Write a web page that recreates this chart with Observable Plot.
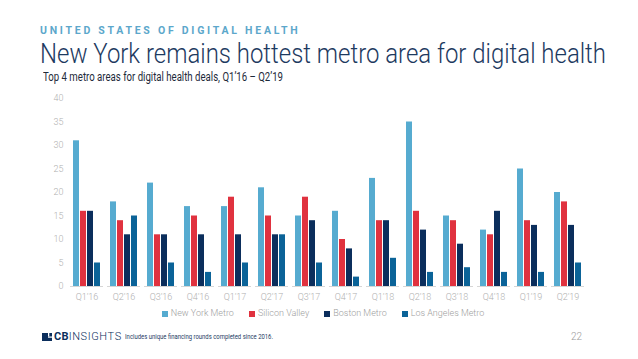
<!DOCTYPE html>
<html><head><meta charset="utf-8">
<script src="https://cdn.jsdelivr.net/npm/d3@7"></script>
<script src="https://cdn.jsdelivr.net/npm/@observablehq/plot@0.6"></script>
<style>
body{margin:0;width:638px;height:359px;position:relative;background:#fff;font-family:Roboto,"Noto Sans",sans-serif;overflow:hidden}
.abs{position:absolute;white-space:nowrap;line-height:1}
.fit{transform-origin:0 50%}
#legend{display:flex;justify-content:center;align-items:center;gap:15px;font-size:9px;color:#a0a0a0;font-weight:300}
#legend span.sw{display:inline-block;width:6px;height:6px;margin-right:3px;vertical-align:middle}
</style></head><body>
<div class="abs" style="left:40px;top:26px;font-size:10.5px;font-weight:700;letter-spacing:2.75px;color:#5ca7cb">UNITED STATES OF DIGITAL HEALTH</div>
<div class="abs fit" data-w="566" style="left:40px;top:40px;font-size:27.5px;font-weight:300;color:#1d3a5f">New York remains hottest metro area for digital health</div>
<div class="abs fit" data-w="240" style="left:43px;top:71px;font-size:12.5px;font-weight:400;color:#1e2a3a">Top 4 metro areas for digital health deals, Q1’16 – Q2’19</div>
<div id="chart" class="abs" style="left:0;top:88px"></div>
<div id="legend" class="abs" style="left:175px;width:296px;top:309px"></div>
<div class="abs" style="left:42px;top:331px;display:flex;align-items:center">
  <svg width="10" height="8" style="margin-right:2px"><rect x="0" y="0" width="10" height="8" fill="#0b2e5c"/><rect x="6" y="0" width="1.3" height="3.5" fill="#fff"/><rect x="6" y="3.5" width="4" height="1.2" fill="#fff"/></svg>
  <span style="font-size:11px;font-weight:700;color:#0b2e5c;letter-spacing:0.2px">CB</span><span style="font-size:11px;font-weight:300;color:#0b2e5c;letter-spacing:0.6px">INSIGHTS</span>
</div>
<div class="abs fit" data-w="148" style="left:125px;top:333px;font-size:7.5px;color:#1d3a5f">Includes unique financing rounds completed since 2016.</div>
<div class="abs" style="left:571px;top:332px;font-size:10px;color:#9a9a9a;font-weight:300">22</div>
<script>
const quarters = ["Q1’16","Q2’16","Q3’16","Q4’16","Q1’17","Q2’17","Q3’17","Q4’17","Q1’18","Q2’18","Q3’18","Q4’18","Q1’19","Q2’19"];
const series = ["New York Metro","Silicon Valley","Boston Metro","Los Angeles Metro"];
const newYork       = [31,18,22,17,17,21,15,16,23,35,15,12,25,20];
const siliconValley = [16,14,11,15,19,15,19,10,14,16,14,11,14,18];
const boston        = [16,11,11,11,11,11,14, 8,14,12, 9,16,13,13];
const losAngeles    = [ 5,15, 5, 3, 5,11, 5, 2, 6, 3, 4, 3, 3, 5];
const yTicks = [0,5,10,15,20,25,30,35,40];
const colors = ["#56abd0","#e0323f","#0b2e5c","#0b6398"];

const seriesValues = [newYork, siliconValley, boston, losAngeles];
const data = [];
quarters.forEach((q, i) => series.forEach((s, j) => data.push({quarter: q, series: s, value: seriesValues[j][i]})));

function build(superRule) {
  return Plot.plot({
    width: 638, height: 218,
    marginTop: 10, marginBottom: 20, marginLeft: 64, marginRight: 49,
    style: {fontFamily: "Roboto, sans-serif", fontSize: "9px", color: "#b0b0b0", background: "transparent", fontWeight: 300},
    fx: {domain: quarters, padding: 0.12, label: null, tickSize: 0, tickPadding: 7, axis: "bottom"},
    x: {domain: series, padding: 0.14, axis: null},
    y: {domain: [0, 40], ticks: yTicks, tickSize: 0, tickPadding: 7, label: null},
    color: {domain: series, range: colors},
    marks: [
      Plot.barY(data, {fx: "quarter", x: "series", y: "value", fill: "series"}),
      superRule ? Plot.ruleY([0], {stroke: "#d6d6d6", facet: "super"}) : Plot.ruleY([0], {stroke: "#d6d6d6"})
    ]
  });
}
let chart;
try { chart = build(true); } catch (e) { chart = build(false); }
document.getElementById("chart").appendChild(chart);

const legend = document.getElementById("legend");
series.forEach((s, i) => {
  const d = document.createElement("div");
  d.innerHTML = `<span class="sw" style="background:${colors[i]}"></span>${s}`;
  legend.appendChild(d);
});

document.querySelectorAll(".fit").forEach(el => {
  const w = el.getBoundingClientRect().width;
  el.style.transform = `scaleX(${(+el.dataset.w / w).toFixed(4)})`;
});
</script>
</body></html>
